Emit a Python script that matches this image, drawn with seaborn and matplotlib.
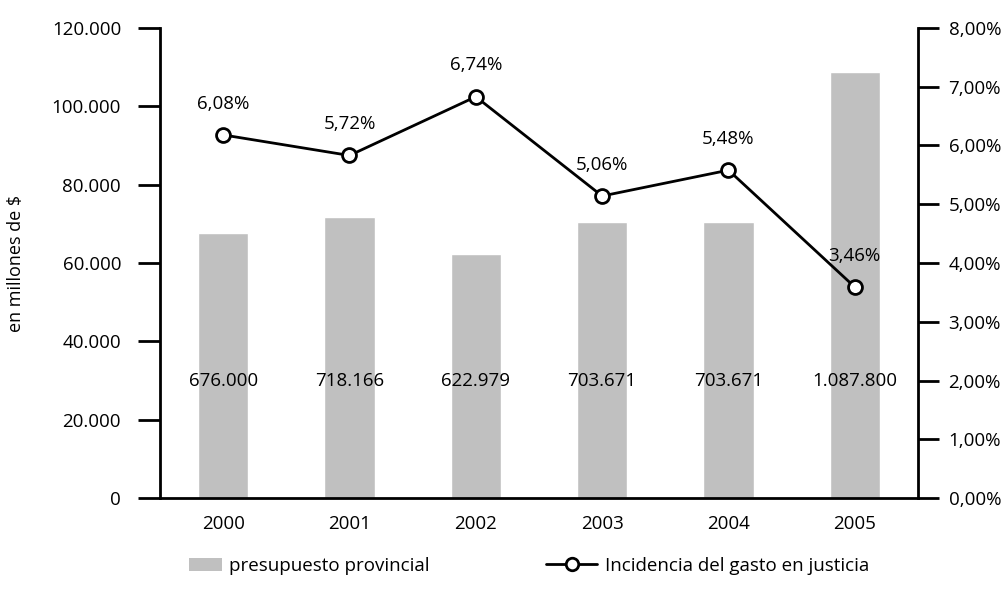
import numpy as np
import matplotlib
matplotlib.use("Agg")
import matplotlib.pyplot as plt
import seaborn as sns
import pandas as pd
from matplotlib.lines import Line2D
from matplotlib.patches import Patch, Rectangle
from matplotlib.legend_handler import HandlerPatch

years = ['2000', '2001', '2002', '2003', '2004', '2005']
# bar heights (millones de $) and the labels printed inside the bars
presupuesto = [67600, 71817, 62298, 70367, 70367, 108780]
presupuesto_labels = ['676.000', '718.166', '622.979', '703.671', '703.671', '1.087.800']
incidencia = [6.18, 5.83, 6.83, 5.14, 5.58, 3.59]
incidencia_labels = ['6,08%', '5,72%', '6,74%', '5,06%', '5,48%', '3,46%']

df = pd.DataFrame({'year': years, 'presupuesto': presupuesto, 'incidencia': incidencia})

sns.set_style('white')
plt.rcParams['font.family'] = ['Open Sans', 'DejaVu Sans']
for k in ('text.color', 'axes.labelcolor', 'xtick.color', 'ytick.color'):
    plt.rcParams[k] = 'black'
FS = 13.5

fig = plt.figure(figsize=(10.06, 5.94), dpi=100)
ax = fig.add_axes([0.159, 0.1616, 0.7535, 0.7913])

sns.barplot(data=df, x='year', y='presupuesto', color='#c0c0c0', width=0.4,
            saturation=1, ax=ax)
ax.set_ylim(0, 120000)
ax.set_xlim(-0.5, 5.5)
ax.set_yticks(np.arange(0, 120001, 20000))
ax.set_yticklabels([f'{int(v):,}'.replace(',', '.') for v in np.arange(0, 120001, 20000)])
ax.set_xlabel('')
ax.set_ylabel('en millones de $', fontsize=13, labelpad=19)

for i, lab in enumerate(presupuesto_labels):
    ax.text(i, 30000, lab, ha='center', va='center', fontsize=FS)

ax2 = ax.twinx()
sns.lineplot(x=np.arange(len(years)), y=incidencia, ax=ax2, color='black', lw=2,
             marker='o', markersize=10, markerfacecolor='white',
             markeredgecolor='black', markeredgewidth=2)
ax2.set_ylim(0, 8)
ax2.set_yticks(np.arange(0, 8.1, 1))
ax2.set_yticklabels([f'{v:.2f}%'.replace('.', ',') for v in np.arange(0, 8.1, 1)])
for i, lab in enumerate(incidencia_labels):
    ax2.text(i, incidencia[i] + 0.38, lab, ha='center', va='bottom', fontsize=FS)
ax2.set_xlim(-0.5, 5.5)

for a in (ax, ax2):
    for s in a.spines.values():
        s.set_visible(False)
ax.spines['left'].set_visible(True)
ax.spines['bottom'].set_visible(True)
ax2.spines['right'].set_visible(True)
for s in (ax.spines['left'], ax.spines['bottom'], ax2.spines['right']):
    s.set_linewidth(2)
    s.set_color('black')

ax.tick_params(axis='y', direction='out', length=16, width=2, pad=12, labelsize=FS, left=True)
ax.tick_params(axis='x', length=0, pad=12, labelsize=FS)
ax2.tick_params(axis='y', direction='out', length=15, width=2, pad=7, labelsize=FS, right=True)


def small_patch(legend, orig_handle, xdescent, ydescent, width, height, fontsize):
    w = width * 0.64
    return Rectangle((width - w - xdescent, -ydescent), w, height)


handles = [Patch(facecolor='#c0c0c0', edgecolor='none'),
           Line2D([0], [0], color='black', lw=2, marker='o', markersize=9,
                  markerfacecolor='white', markeredgecolor='black', markeredgewidth=2)]
fig.legend(handles, ['presupuesto provincial', 'Incidencia del gasto en justicia'],
           loc='center left', bbox_to_anchor=(170 / 1006, 1 - 566 / 594), ncol=2,
           frameon=False, fontsize=FS, columnspacing=6.2, handlelength=2.75,
           handletextpad=0.4, borderpad=0, borderaxespad=0,
           handler_map={Patch: HandlerPatch(patch_func=small_patch)})

fig.savefig('out.png', dpi=100)
